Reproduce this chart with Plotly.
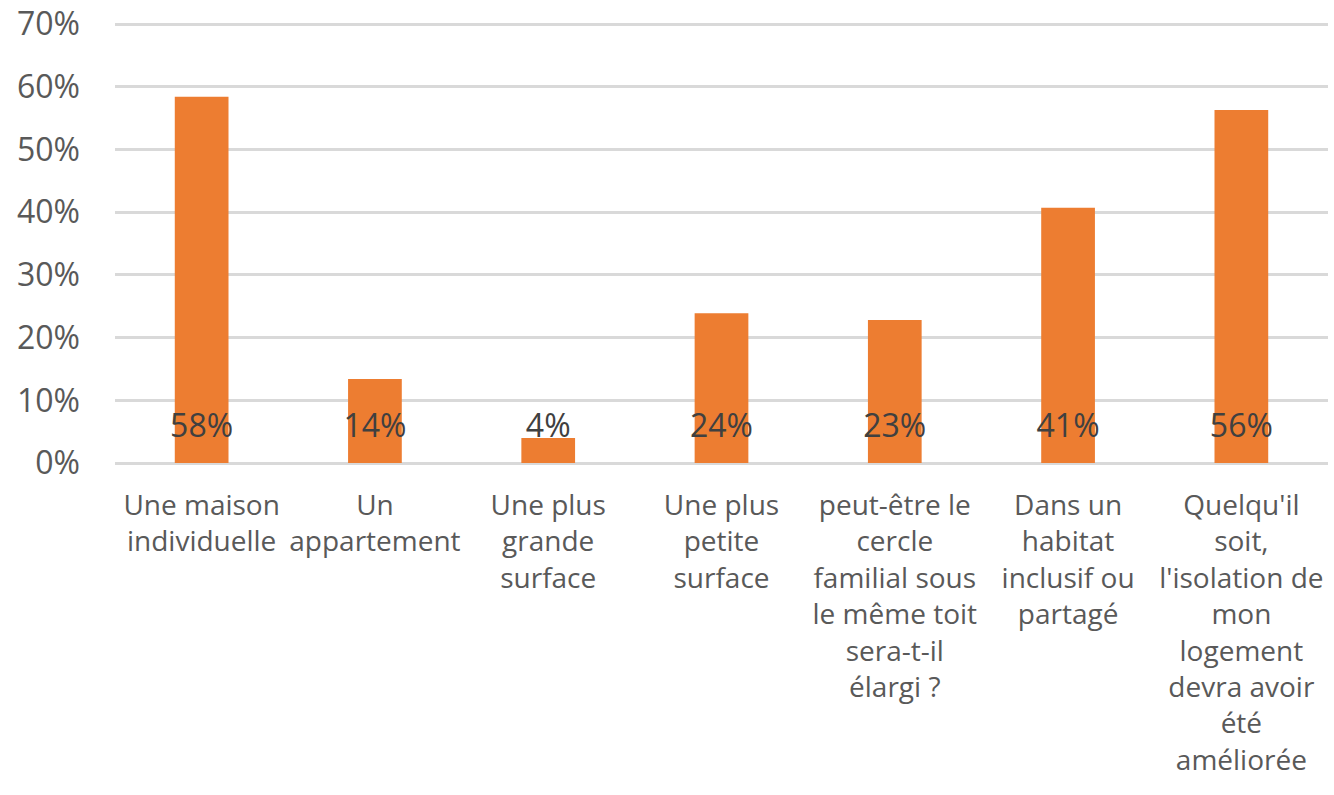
import plotly.graph_objects as go

categories = [
    "Une maison<br>individuelle",
    "Un<br>appartement",
    "Une plus<br>grande<br>surface",
    "Une plus<br>petite<br>surface",
    "peut-être le<br>cercle<br>familial sous<br>le même toit<br>sera-t-il<br>élargi ?",
    "Dans un<br>habitat<br>inclusif ou<br>partagé",
    "Quelqu'il<br>soit,<br>l'isolation de<br>mon<br>logement<br>devra avoir<br>été<br>améliorée",
]
values = [0.584, 0.134, 0.040, 0.239, 0.228, 0.407, 0.563]
labels = ["58%", "14%", "4%", "24%", "23%", "41%", "56%"]
label_level = [0.055] * len(categories)
y_ticks = [0, 0.1, 0.2, 0.3, 0.4, 0.5, 0.6, 0.7]

FONT = "Open Sans"

fig = go.Figure()
fig.add_trace(go.Bar(
    x=categories, y=values,
    marker=dict(color="#ED7D31", line=dict(width=0)),
    hoverinfo="skip",
))
fig.add_trace(go.Scatter(
    x=categories, y=label_level, mode="text", text=labels,
    textposition="middle center",
    textfont=dict(family=FONT, size=32, color="#404040"),
    hoverinfo="skip",
))

fig.update_layout(
    width=1334, height=795,
    margin=dict(l=115, r=6, t=21, b=332),
    paper_bgcolor="white", plot_bgcolor="white",
    showlegend=False,
    bargap=0.69,
    font=dict(family=FONT, color="#595959"),
)
fig.update_xaxes(
    type="category", automargin=False,
    showgrid=False, showline=False, zeroline=False,
    tickfont=dict(family=FONT, size=28, color="#595959"),
    ticks="", ticklabelstandoff=23,
    tickangle=0,
)
fig.update_yaxes(
    range=[0, 0.705], tickvals=y_ticks, tickformat=".0%", automargin=False,
    showgrid=True, gridcolor="#d9d9d9", gridwidth=2.5,
    zeroline=True, zerolinecolor="#d9d9d9", zerolinewidth=2.5,
    showline=False, ticks="", ticklabeloverflow="allow",
    tickfont=dict(family=FONT, size=32, color="#595959"),
    ticklabelstandoff=34,
)

fig.write_html(
    "out.html",
    config={"displayModeBar": False},
    post_script="document.body.style.margin='0';",
)
